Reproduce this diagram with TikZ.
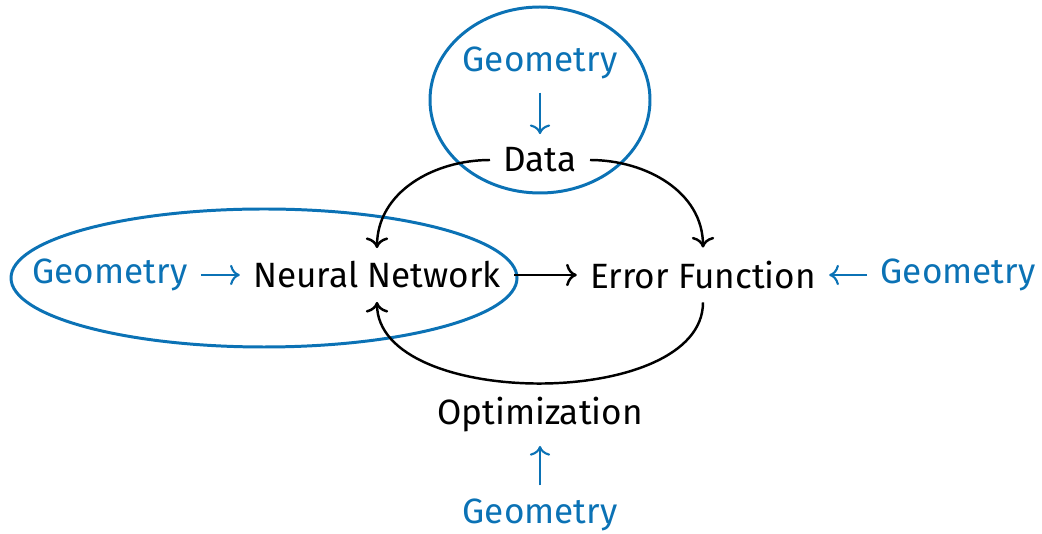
\documentclass[tikz,border=0pt]{standalone}
\usepackage{fontspec}
\setmainfont{Fira Sans}
\usepackage{xcolor}
\usepackage{tikz}
\usetikzlibrary{arrows.meta, positioning}
\definecolor{geoblue}{HTML}{0B72B5}

\tikzset{
  term/.style={font=\fontsize{20}{24}\selectfont, inner sep=7.5pt},
  geo/.style={term, text=geoblue},
  flow/.style={->, line width=1.4pt},
  geoflow/.style={->, geoblue, line width=1.2pt},
  geoblob/.style={geoblue, line width=1.7pt}
}

\begin{document}
\begin{tikzpicture}[>={To[scale=1.3]}, x=0.02cm, y=0.02cm]
  \useasboundingbox (0,0) rectangle (1042,534);

  % Bausteine
  \node[term] (data) at (540,374) {Data};
  \node[term] (nn)   at (377,259) {Neural Network};
  \node[term] (err)  at (703,259) {Error Function};
  \node[term] (opt)  at (540,119) {Optimization};

  % Geometrie
  \node[geo] (geoT) at (540,471) {Geometry};
  \node[geo] (geoL) at (110,259) {Geometry};
  \node[geo] (geoR) at (958,259) {Geometry};
  \node[geo] (geoB) at (540,19)  {Geometry};

  % Ellipsen
  \draw[geoblob] (540,434) ellipse [x radius=110, y radius=93];
  \draw[geoblob] (264,256) ellipse [x radius=253, y radius=69];

  % Kreislauf
  \draw[flow] (data.west) to[out=180, in=90] (nn.north);
  \draw[flow] (data.east) to[out=0, in=90] (err.north);
  \draw[flow] (nn) -- (err);
  \draw[flow] (err.south) to[out=-90, in=-90, looseness=0.85] (nn.south);

  % Geometrie-Pfeile
  \draw[geoflow] (geoT) -- (data);
  \draw[geoflow] (geoL) -- (nn);
  \draw[geoflow] (geoR) -- (err);
  \draw[geoflow] (geoB) -- (opt);
\end{tikzpicture}
\end{document}
